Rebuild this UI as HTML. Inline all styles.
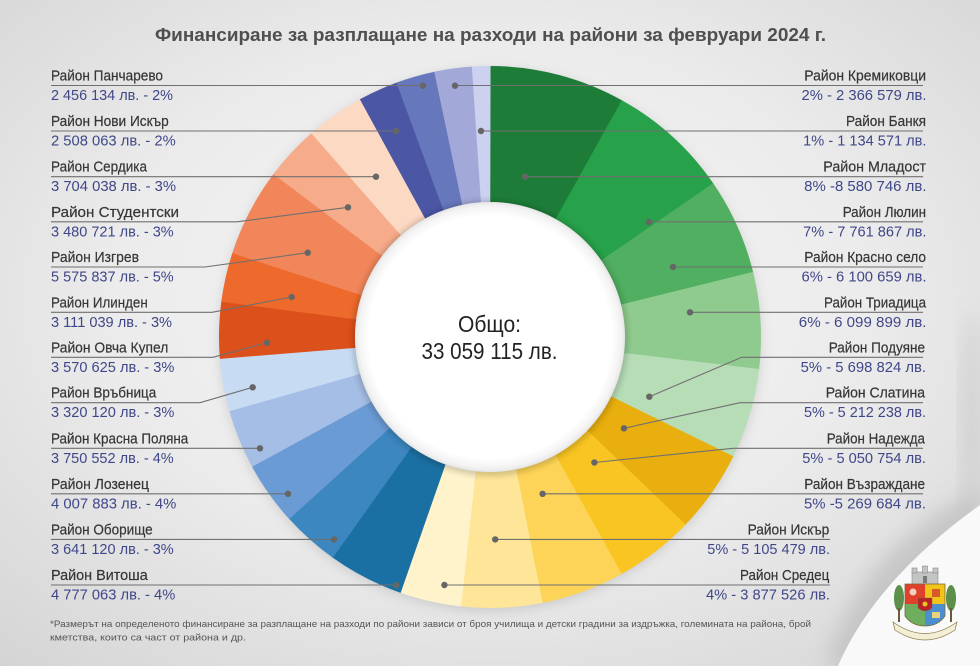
<!DOCTYPE html>
<html lang="bg">
<head>
<meta charset="utf-8">
<style>
  html,body{margin:0;padding:0;width:980px;height:666px;overflow:hidden;background:#e6e6e6;}
  svg{display:block;overflow:hidden;}
  .nm{font-family:"Liberation Sans","Noto Sans CJK JP",sans-serif;font-size:14.5px;fill:#363636;stroke:#363636;stroke-width:0.2;}
  .vl{font-family:"Liberation Sans","Noto Sans CJK JP",sans-serif;font-size:14.5px;fill:#3f4789;}
  .ln{fill:none;stroke:#707070;stroke-width:1.1;}
  .dt{fill:#666;}
</style>
</head>
<body>
<svg width="980" height="666" viewBox="0 0 980 666" xmlns="http://www.w3.org/2000/svg">
  <defs>
    <radialGradient id="bg" cx="50%" cy="45%" r="75%">
      <stop offset="0" stop-color="#f5f5f5"/>
      <stop offset="0.5" stop-color="#ececec"/>
      <stop offset="1" stop-color="#d4d4d4"/>
    </radialGradient>
    <radialGradient id="inner" cx="50%" cy="50%" r="50%">
      <stop offset="0" stop-color="#ffffff"/>
      <stop offset="0.9" stop-color="#ffffff"/>
      <stop offset="0.97" stop-color="#f3f3f3"/>
      <stop offset="1" stop-color="#e6e6e6"/>
    </radialGradient>
    <filter id="blur6" x="-20%" y="-20%" width="140%" height="140%"><feGaussianBlur stdDeviation="6"/></filter>
    <filter id="blur3" x="-20%" y="-20%" width="140%" height="140%"><feGaussianBlur stdDeviation="3"/></filter>
    <filter id="blur10" x="-30%" y="-30%" width="160%" height="160%"><feGaussianBlur stdDeviation="10"/></filter>
    <clipPath id="frame"><rect x="0" y="0" width="980" height="666"/></clipPath>
  </defs>

  <g clip-path="url(#frame)">
  <!-- background -->
  <rect x="0" y="0" width="980" height="666" fill="url(#bg)"/>
  <ellipse cx="972" cy="420" rx="10" ry="110" fill="#bdbdbd" opacity="0.5" filter="url(#blur10)"/>
  <path d="M826,666 Q860,548 980,490 L980,666 Z" fill="#bcbcbc" opacity="0.7" filter="url(#blur10)"/>
  <path d="M838,666 Q875,580 980,505 L980,666 Z" fill="#f9f9f9"/>

  <!-- title -->
  <text x="155" y="41" textLength="671" lengthAdjust="spacingAndGlyphs" font-family="'Liberation Sans','Noto Sans CJK JP',sans-serif" font-size="18.5" font-weight="bold" fill="#4f4f4f">Финансиране за разплащане на разходи на райони за февруари 2024 г.</text>

  <!-- donut shadow -->
  <circle cx="490" cy="340" r="270" fill="#8a8a8a" opacity="0.35" filter="url(#blur6)"/>

  <!-- donut segments -->
  <g fill="none" stroke-width="136">
    <circle cx="490" cy="337" r="203" stroke="#1d7d38" stroke-dasharray="103.9 1300" transform="rotate(-90 490 337)"/>
    <circle cx="490" cy="337" r="203" stroke="#27a14a" stroke-dasharray="94.06 1300" transform="rotate(-60.902 490 337)"/>
    <circle cx="490" cy="337" r="203" stroke="#50af60" stroke-dasharray="74.1 1300" transform="rotate(-34.581 490 337)"/>
    <circle cx="490" cy="337" r="203" stroke="#8fcb8f" stroke-dasharray="74.09 1300" transform="rotate(-13.894 490 337)"/>
    <circle cx="490" cy="337" r="203" stroke="#b7ddb6" stroke-dasharray="69.27 1300" transform="rotate(6.791 490 337)"/>
    <circle cx="490" cy="337" r="203" stroke="#e8af0e" stroke-dasharray="63.42 1300" transform="rotate(26.116 490 337)"/>
    <circle cx="490" cy="337" r="203" stroke="#f9c522" stroke-dasharray="61.48 1300" transform="rotate(43.791 490 337)"/>
    <circle cx="490" cy="337" r="203" stroke="#fdd457" stroke-dasharray="64.11 1300" transform="rotate(60.918 490 337)"/>
    <circle cx="490" cy="337" r="203" stroke="#fee597" stroke-dasharray="62.14 1300" transform="rotate(78.788 490 337)"/>
    <circle cx="490" cy="337" r="203" stroke="#fff3cb" stroke-dasharray="47.39 1300" transform="rotate(96.101 490 337)"/>
    <circle cx="490" cy="337" r="203" stroke="#1b70a3" stroke-dasharray="58.19 1300" transform="rotate(109.25 490 337)"/>
    <circle cx="490" cy="337" r="203" stroke="#3c87c0" stroke-dasharray="44.55 1300" transform="rotate(125.449 490 337)"/>
    <circle cx="490" cy="337" r="203" stroke="#6a9bd4" stroke-dasharray="48.95 1300" transform="rotate(137.796 490 337)"/>
    <circle cx="490" cy="337" r="203" stroke="#a5bee6" stroke-dasharray="45.86 1300" transform="rotate(151.387 490 337)"/>
    <circle cx="490" cy="337" r="203" stroke="#c7dcf3" stroke-dasharray="40.69 1300" transform="rotate(164.105 490 337)"/>
    <circle cx="490" cy="337" r="203" stroke="#dc501c" stroke-dasharray="43.7 1300" transform="rotate(175.364 490 337)"/>
    <circle cx="490" cy="337" r="203" stroke="#ee6a2c" stroke-dasharray="38.18 1300" transform="rotate(187.472 490 337)"/>
    <circle cx="490" cy="337" r="203" stroke="#f2865b" stroke-dasharray="67.79 1300" transform="rotate(198.022 490 337)"/>
    <circle cx="490" cy="337" r="203" stroke="#f6ab8a" stroke-dasharray="42.62 1300" transform="rotate(216.93 490 337)"/>
    <circle cx="490" cy="337" r="203" stroke="#fcd9c3" stroke-dasharray="45.3 1300" transform="rotate(228.733 490 337)"/>
    <circle cx="490" cy="337" r="203" stroke="#4b56a5" stroke-dasharray="30.93 1300" transform="rotate(241.293 490 337)"/>
    <circle cx="490" cy="337" r="203" stroke="#6777bc" stroke-dasharray="30.31 1300" transform="rotate(249.798 490 337)"/>
    <circle cx="490" cy="337" r="203" stroke="#a2a8d8" stroke-dasharray="29.23 1300" transform="rotate(258.127 490 337)"/>
    <circle cx="490" cy="337" r="203" stroke="#cbd1ee" stroke-dasharray="14.1 1300" transform="rotate(266.152 490 337)"/>
  </g>

  <!-- inner circle -->
  <circle cx="490" cy="338" r="138" fill="#000" opacity="0.16" filter="url(#blur3)"/>
  <circle cx="490" cy="337" r="135" fill="url(#inner)"/>
  <text x="489.5" y="332" text-anchor="middle" textLength="63" lengthAdjust="spacingAndGlyphs" font-family="'Liberation Sans','Noto Sans CJK JP',sans-serif" font-size="23" fill="#222">Общо:</text>
  <text x="489.5" y="359" text-anchor="middle" textLength="136" lengthAdjust="spacingAndGlyphs" font-family="'Liberation Sans','Noto Sans CJK JP',sans-serif" font-size="23" fill="#222">33 059 115 лв.</text>

  <!-- leader lines left -->
  <polyline class="ln" points="51,85.5 423,85.5"/>
  <polyline class="ln" points="51,131 396,131"/>
  <polyline class="ln" points="51,176.7 376,176.7"/>
  <polyline class="ln" points="51,221.8 237,221.8 348,207.3"/>
  <polyline class="ln" points="51,267 205,267 307.7,252.7"/>
  <polyline class="ln" points="51,312.3 212,312.3 291.7,297"/>
  <polyline class="ln" points="51,357.3 213,357.3 267,342.7"/>
  <polyline class="ln" points="51,402.7 200,402.7 252.7,387.3"/>
  <polyline class="ln" points="51,448.3 260,448.3"/>
  <polyline class="ln" points="51,493.8 288,493.8"/>
  <polyline class="ln" points="51,539.4 334,539.4"/>
  <polyline class="ln" points="51,585 396.3,585"/>

  <!-- leader lines right -->
  <polyline class="ln" points="455,85.5 923,85.5"/>
  <polyline class="ln" points="481,131 923,131"/>
  <polyline class="ln" points="525,176.7 923,176.7"/>
  <polyline class="ln" points="649,221.8 923,221.8"/>
  <polyline class="ln" points="673,267 923,267"/>
  <polyline class="ln" points="690,312.3 923,312.3"/>
  <polyline class="ln" points="649.3,396.7 741.7,357.3 923,357.3"/>
  <polyline class="ln" points="624,428.3 740,402.7 923,402.7"/>
  <polyline class="ln" points="594.4,462.5 733,448.3 923,448.3"/>
  <polyline class="ln" points="542.6,493.8 923,493.8"/>
  <polyline class="ln" points="495.2,539.4 830,539.4"/>
  <polyline class="ln" points="444.4,585 830,585"/>

  <!-- dots -->
  <g class="dt">
    <circle cx="423" cy="85.7" r="3.2"/>
    <circle cx="396" cy="131" r="3.2"/>
    <circle cx="376" cy="176.7" r="3.2"/>
    <circle cx="348" cy="207.3" r="3.2"/>
    <circle cx="307.7" cy="252.7" r="3.2"/>
    <circle cx="291.7" cy="297" r="3.2"/>
    <circle cx="267" cy="342.7" r="3.2"/>
    <circle cx="252.7" cy="387.3" r="3.2"/>
    <circle cx="260" cy="448.3" r="3.2"/>
    <circle cx="288" cy="493.8" r="3.2"/>
    <circle cx="334" cy="539.4" r="3.2"/>
    <circle cx="396.3" cy="585" r="3.2"/>
    <circle cx="455" cy="85.7" r="3.2"/>
    <circle cx="481" cy="131" r="3.2"/>
    <circle cx="525" cy="176.7" r="3.2"/>
    <circle cx="649" cy="222" r="3.2"/>
    <circle cx="673" cy="267" r="3.2"/>
    <circle cx="690" cy="312.3" r="3.2"/>
    <circle cx="649.3" cy="396.7" r="3.2"/>
    <circle cx="624" cy="428.3" r="3.2"/>
    <circle cx="594.4" cy="462.5" r="3.2"/>
    <circle cx="542.6" cy="493.8" r="3.2"/>
    <circle cx="495.2" cy="539.4" r="3.2"/>
    <circle cx="444.4" cy="585" r="3.2"/>
  </g>

  <!-- left labels -->
  <text class="nm" x="51" y="80.5" textLength="112" lengthAdjust="spacingAndGlyphs">Район Панчарево</text>
  <text class="vl" x="51" y="100" textLength="122" lengthAdjust="spacingAndGlyphs">2 456 134 лв. - 2%</text>
  <text class="nm" x="51" y="126" textLength="117.7" lengthAdjust="spacingAndGlyphs">Район Нови Искър</text>
  <text class="vl" x="51" y="145.5" textLength="124.7" lengthAdjust="spacingAndGlyphs">2 508 063 лв. - 2%</text>
  <text class="nm" x="51" y="171.7" textLength="96" lengthAdjust="spacingAndGlyphs">Район Сердика</text>
  <text class="vl" x="51" y="191.2" textLength="125" lengthAdjust="spacingAndGlyphs">3 704 038 лв. - 3%</text>
  <text class="nm" x="51" y="216.8" textLength="128" lengthAdjust="spacingAndGlyphs">Район Студентски</text>
  <text class="vl" x="51" y="236.3" textLength="122.7" lengthAdjust="spacingAndGlyphs">3 480 721 лв. - 3%</text>
  <text class="nm" x="51" y="262" textLength="88" lengthAdjust="spacingAndGlyphs">Район Изгрев</text>
  <text class="vl" x="51" y="281.5" textLength="122.7" lengthAdjust="spacingAndGlyphs">5 575 837 лв. - 5%</text>
  <text class="nm" x="51" y="307.3" textLength="96.7" lengthAdjust="spacingAndGlyphs">Район Илинден</text>
  <text class="vl" x="51" y="326.8" textLength="121" lengthAdjust="spacingAndGlyphs">3 111 039 лв. - 3%</text>
  <text class="nm" x="51" y="352.3" textLength="117.3" lengthAdjust="spacingAndGlyphs">Район Овча Купел</text>
  <text class="vl" x="51" y="371.8" textLength="123.3" lengthAdjust="spacingAndGlyphs">3 570 625 лв. - 3%</text>
  <text class="nm" x="51" y="397.7" textLength="105.3" lengthAdjust="spacingAndGlyphs">Район Връбница</text>
  <text class="vl" x="51" y="417.2" textLength="123.3" lengthAdjust="spacingAndGlyphs">3 320 120 лв. - 3%</text>
  <text class="nm" x="51" y="443.3" textLength="137.3" lengthAdjust="spacingAndGlyphs">Район Красна Поляна</text>
  <text class="vl" x="51" y="462.8" textLength="122.7" lengthAdjust="spacingAndGlyphs">3 750 552 лв. - 4%</text>
  <text class="nm" x="51" y="488.8" textLength="98" lengthAdjust="spacingAndGlyphs">Район Лозенец</text>
  <text class="vl" x="51" y="508.3" textLength="125.3" lengthAdjust="spacingAndGlyphs">4 007 883 лв. - 4%</text>
  <text class="nm" x="51" y="534.4" textLength="101.7" lengthAdjust="spacingAndGlyphs">Район Оборище</text>
  <text class="vl" x="51" y="553.9" textLength="122.7" lengthAdjust="spacingAndGlyphs">3 641 120 лв. - 3%</text>
  <text class="nm" x="51" y="580" textLength="96.7" lengthAdjust="spacingAndGlyphs">Район Витоша</text>
  <text class="vl" x="51" y="599.5" textLength="124.3" lengthAdjust="spacingAndGlyphs">4 777 063 лв. - 4%</text>

  <!-- right labels -->
  <text class="nm" x="926" y="80.5" text-anchor="end" textLength="121.7" lengthAdjust="spacingAndGlyphs">Район Кремиковци</text>
  <text class="vl" x="926.5" y="100" text-anchor="end" textLength="125" lengthAdjust="spacingAndGlyphs">2% - 2 366 579 лв.</text>
  <text class="nm" x="926" y="126" text-anchor="end" textLength="80" lengthAdjust="spacingAndGlyphs">Район Банкя</text>
  <text class="vl" x="926.5" y="145.5" text-anchor="end" textLength="123.3" lengthAdjust="spacingAndGlyphs">1% - 1 134 571 лв.</text>
  <text class="nm" x="926" y="171.7" text-anchor="end" textLength="102.7" lengthAdjust="spacingAndGlyphs">Район Младост</text>
  <text class="vl" x="926.5" y="191.2" text-anchor="end" textLength="122.3" lengthAdjust="spacingAndGlyphs">8% -8 580 746 лв.</text>
  <text class="nm" x="926" y="216.8" text-anchor="end" textLength="83.3" lengthAdjust="spacingAndGlyphs">Район Люлин</text>
  <text class="vl" x="926.5" y="236.3" text-anchor="end" textLength="123.3" lengthAdjust="spacingAndGlyphs">7% - 7 761 867 лв.</text>
  <text class="nm" x="926" y="262" text-anchor="end" textLength="121.7" lengthAdjust="spacingAndGlyphs">Район Красно село</text>
  <text class="vl" x="926.5" y="281.5" text-anchor="end" textLength="125" lengthAdjust="spacingAndGlyphs">6% - 6 100 659 лв.</text>
  <text class="nm" x="926" y="307.3" text-anchor="end" textLength="102" lengthAdjust="spacingAndGlyphs">Район Триадица</text>
  <text class="vl" x="926.5" y="326.8" text-anchor="end" textLength="127.7" lengthAdjust="spacingAndGlyphs">6% - 6 099 899 лв.</text>
  <text class="nm" x="925" y="352.3" text-anchor="end" textLength="96.3" lengthAdjust="spacingAndGlyphs">Район Подуяне</text>
  <text class="vl" x="926" y="371.8" text-anchor="end" textLength="125.3" lengthAdjust="spacingAndGlyphs">5% - 5 698 824 лв.</text>
  <text class="nm" x="925" y="397.7" text-anchor="end" textLength="99.3" lengthAdjust="spacingAndGlyphs">Район Слатина</text>
  <text class="vl" x="926" y="417.2" text-anchor="end" textLength="122" lengthAdjust="spacingAndGlyphs">5% - 5 212 238 лв.</text>
  <text class="nm" x="925" y="443.3" text-anchor="end" textLength="98.3" lengthAdjust="spacingAndGlyphs">Район Надежда</text>
  <text class="vl" x="926" y="462.8" text-anchor="end" textLength="123.7" lengthAdjust="spacingAndGlyphs">5% - 5 050 754 лв.</text>
  <text class="nm" x="925" y="488.8" text-anchor="end" textLength="120.7" lengthAdjust="spacingAndGlyphs">Район Възраждане</text>
  <text class="vl" x="926" y="508.3" text-anchor="end" textLength="122" lengthAdjust="spacingAndGlyphs">5% -5 269 684 лв.</text>
  <text class="nm" x="829.3" y="534.4" text-anchor="end" textLength="81.7" lengthAdjust="spacingAndGlyphs">Район Искър</text>
  <text class="vl" x="830" y="553.9" text-anchor="end" textLength="122.7" lengthAdjust="spacingAndGlyphs">5% - 5 105 479 лв.</text>
  <text class="nm" x="829.3" y="580" text-anchor="end" textLength="89.3" lengthAdjust="spacingAndGlyphs">Район Средец</text>
  <text class="vl" x="830" y="599.5" text-anchor="end" textLength="124" lengthAdjust="spacingAndGlyphs">4% - 3 877 526 лв.</text>

  <!-- footnote -->
  <text x="50" y="627" textLength="761" lengthAdjust="spacingAndGlyphs" font-family="'Liberation Sans','Noto Sans CJK JP',sans-serif" font-size="9.5" fill="#555">*Размерът на определеното финансиране за разплащане на разходи по райони зависи от броя училища и детски градини за издръжка, големината на района, брой</text>
  <text x="50" y="640.5" textLength="196" lengthAdjust="spacingAndGlyphs" font-family="'Liberation Sans','Noto Sans CJK JP',sans-serif" font-size="9.5" fill="#555">кметства, които са част от района и др.</text>

  <!-- coat of arms (approximation) -->
  <g>
    <ellipse cx="899" cy="598" rx="5" ry="13" fill="#5d8f4a"/>
    <rect x="898" y="608" width="2" height="14" fill="#6b5a3a"/>
    <ellipse cx="951" cy="598" rx="5" ry="13" fill="#5d8f4a"/>
    <rect x="950" y="608" width="2" height="14" fill="#6b5a3a"/>
    <rect x="912" y="572" width="26" height="12" fill="#c4c4c4" stroke="#8a8a8a" stroke-width="0.6"/>
    <rect x="912" y="568" width="5" height="5" fill="#c4c4c4" stroke="#8a8a8a" stroke-width="0.6"/>
    <rect x="922.5" y="566" width="5" height="7" fill="#c4c4c4" stroke="#8a8a8a" stroke-width="0.6"/>
    <rect x="933" y="568" width="5" height="5" fill="#c4c4c4" stroke="#8a8a8a" stroke-width="0.6"/>
    <rect x="923" y="576" width="4" height="7" fill="#777"/>
    <path d="M905,584 H925 V604 H905 Z" fill="#e0412c"/>
    <path d="M925,584 H945 V604 H925 Z" fill="#f2c318"/>
    <path d="M905,604 H925 V626 Q912,626 905,616 Z" fill="#6fae5c"/>
    <path d="M925,604 H945 V616 Q938,626 925,626 Z" fill="#4b8fd0"/>
    <path d="M905,584 H945 V616 Q938,626 925,626 Q912,626 905,616 Z" fill="none" stroke="#7a6a3a" stroke-width="0.8"/>
    <path d="M918,598 H932 V608 Q925,614 918,608 Z" fill="#b8232a" stroke="#7a6a3a" stroke-width="0.5"/>
    <circle cx="925" cy="604" r="2.5" fill="#f2c318"/>
    <circle cx="913" cy="592" r="3.5" fill="#f0d0c0"/>
    <rect x="932" y="589" width="8" height="8" fill="#d85a2a"/>
    <rect x="932" y="612" width="8" height="6" fill="#e8d27a"/>
    <path d="M893,622 Q925,645 957,622 L955,630 Q925,650 895,630 Z" fill="#f3eed6" stroke="#8a7a4a" stroke-width="0.7"/>
  </g>
  </g>
</svg>
</body>
</html>
